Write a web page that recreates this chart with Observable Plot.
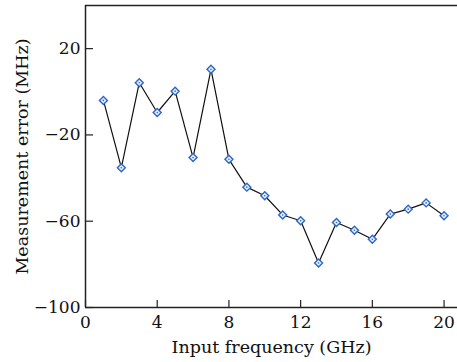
<!DOCTYPE html>
<html><head><meta charset="utf-8">
<script src="https://cdn.jsdelivr.net/npm/d3@7"></script>
<script src="https://cdn.jsdelivr.net/npm/@observablehq/plot@0.6"></script>
<style>
body{margin:0;background:#fff;}
svg{font-family:"DejaVu Serif","Liberation Serif",serif;}
</style>
</head><body><div id="chart"></div>
<script>
const freq = [1,2,3,4,5,6,7,8,9,10,11,12,13,14,15,16,17,18,19,20];
const error = [-4,-35.2,4.2,-9.6,0.3,-30.5,10.4,-31.3,-44.2,-48.2,-57.1,-59.8,-79.4,-60.6,-64.2,-68.4,-56.7,-54.4,-51.5,-57.5];
const xTicks = [0,4,8,12,16,20];
const yTicks = [-100,-60,-20,20];
const xDomain = [0, 20.75];
const yDomain = [-100, 40];

const data = freq.map((f,i)=>({f, e:error[i]}));
const blue = "#2e66c4";
const axisColor = "#222";

const chart = Plot.plot({
  width: 457, height: 362,
  marginLeft: 85, marginTop: 5, marginBottom: 55, marginRight: 0,
  style: {fontSize: "17px", fontFamily: "DejaVu Serif, serif", color: "#111"},
  x: {domain: xDomain},
  y: {domain: yDomain},
  marks: [
    Plot.ruleY([yDomain[1]], {stroke: axisColor, strokeWidth: 1.5}),
    Plot.ruleY([yDomain[0]], {stroke: axisColor, strokeWidth: 1.5}),
    Plot.ruleX([xDomain[0]], {stroke: axisColor, strokeWidth: 1.5}),
    Plot.axisX({ticks: xTicks, tickSize: -7, text: null, stroke: axisColor, strokeWidth: 1.2, label: null}),
    Plot.axisX({ticks: xTicks, tickSize: 0, tickPadding: 8, label: null, fontSize: 17}),
    Plot.axisY({ticks: yTicks, tickSize: -8, text: null, stroke: axisColor, strokeWidth: 1.2, label: null}),
    Plot.axisY({ticks: yTicks, tickSize: 0, tickPadding: 5, label: null, fontSize: 17, tickFormat: d => d < 0 ? "\u2212" + Math.abs(d) : String(d)}),
    Plot.text(["Input frequency (GHz)"], {frameAnchor: "bottom", dy: 45, fontSize: 17.5, fill: "#111"}),
    Plot.text(["Measurement error (MHz)"], {frameAnchor: "left", textAnchor: "middle", dx: -63, rotate: -90, fontSize: 17.5, fill: "#111"}),
    Plot.line(data, {x: "f", y: "e", stroke: "#111", strokeWidth: 1.2}),
    Plot.dot(data, {x: "f", y: "e", symbol: "diamond2", r: 3.6, stroke: blue, strokeWidth: 1.4, fill: "#e4eefa"}),
    Plot.dot(data, {x: "f", y: "e", r: 0.8, fill: blue, stroke: "none"})
  ]
});
document.getElementById("chart").appendChild(chart);
</script>
</body></html>
